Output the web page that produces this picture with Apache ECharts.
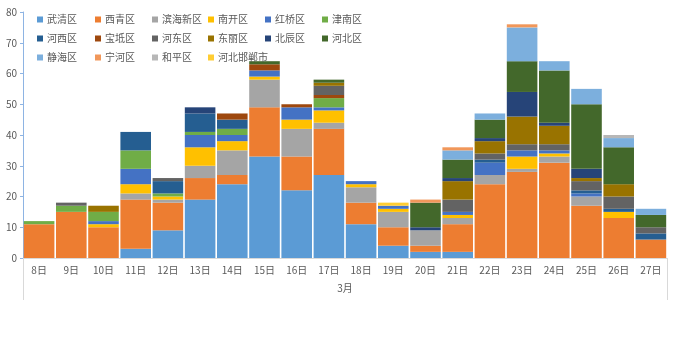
<!DOCTYPE html>
<html>
<head>
<meta charset="utf-8">
<script src="https://cdn.jsdelivr.net/npm/echarts@6/dist/echarts.min.js"></script>
<style>html,body{margin:0;padding:0;background:#fff}#c{width:677px;height:339px}</style>
</head>
<body>
<div id="c"></div>
<script>
const categories = ['8日','9日','10日','11日','12日','13日','14日','15日','16日','17日','18日','19日','20日','21日','22日','23日','24日','25日','26日','27日'];
const monthLabel = ['3月'];
const yTicks = {min: 0, max: 80, interval: 10};

const wuqing   = [0,0,0,3,9,19,24,33,22,27,11,4,2,2,0,0,0,0,0,0];
const xiqing   = [11,15,10,16,9,7,3,16,11,15,7,6,2,9,24,28,31,17,13,6];
const binhai   = [0,0,0,2,1,4,8,9,9,2,5,5,5,2,3,1,2,3,0,0];
const nankai   = [0,0,1,3,1,6,3,1,3,4,1,1,0,1,0,4,1,0,2,0];
const hongqiao = [0,0,1,5,0,4,2,2,4,1,1,1,0,1,4,2,1,1,0,0];
const jinnan   = [1,2,3,6,1,1,2,0,0,3,0,0,0,0,0,0,0,0,0,0];
const hexi     = [0,0,0,6,4,6,3,0,0,0,0,0,0,0,1,0,0,1,1,2];
const baodi    = [0,0,0,0,0,0,2,2,1,1,0,0,0,0,0,0,0,0,0,0];
const hedong   = [0,1,0,0,1,0,0,0,0,3,0,0,0,4,2,2,2,3,4,2];
const dongli   = [0,0,2,0,0,0,0,0,0,1,0,0,0,6,4,9,6,1,4,0];
const beichen  = [0,0,0,0,0,2,0,0,0,0,0,0,1,1,1,8,1,3,0,0];
const hebei    = [0,0,0,0,0,0,0,1,0,1,0,0,8,6,6,10,17,21,12,4];
const jinghai  = [0,0,0,0,0,0,0,0,0,0,0,0,0,3,2,11,3,5,3,2];
const ninghe   = [0,0,0,0,0,0,0,0,0,0,0,0,1,1,0,1,0,0,0,0];
const heping   = [0,0,0,0,0,0,0,0,0,0,0,0,0,0,0,0,0,0,1,0];
const handan   = [0,0,0,0,0,0,0,0,0,0,0,1,0,0,0,0,0,0,0,0];

const seriesNames = ['武清区','西青区','滨海新区','南开区','红桥区','津南区','河西区','宝坻区','河东区','东丽区','北辰区','河北区','静海区','宁河区','和平区','河北邯郸市'];
const seriesData = [wuqing,xiqing,binhai,nankai,hongqiao,jinnan,hexi,baodi,hedong,dongli,beichen,hebei,jinghai,ninghe,heping,handan];
const colors = ['#5B9BD5','#ED7D31','#A5A5A5','#FFC000','#4472C4','#70AD47','#255E91','#9E480E','#636363','#997300','#264478','#43682B','#7CAFDD','#F1975A','#B7B7B7','#FFCD33'];

const FONT = '"Noto Sans CJK SC", "Noto Sans", sans-serif';
const chart = echarts.init(document.getElementById('c'), null, {renderer: 'canvas'});

const legendLefts = [37, 95, 152, 208, 265, 322];
const legends = legendLefts.map((l, col) => ({
  left: l, top: 13, orient: 'vertical', padding: 0,
  itemWidth: 6, itemHeight: 6, itemGap: 6, icon: 'rect',
  textStyle: {fontFamily: FONT, fontSize: 10, color: '#595959', lineHeight: 13, padding: [0,0,0,-1]},
  data: [0,1,2].map(r => seriesNames[r*6 + col]).filter(Boolean),
  selectedMode: false
}));

chart.setOption({
  animation: false,
  color: colors,
  textStyle: {fontFamily: FONT},
  legend: legends,
  grid: {left: 23, right: 10, top: 12, bottom: 81, containLabel: false},
  xAxis: [{
    type: 'category', data: categories, position: 'bottom',
    axisLine: {show: true, lineStyle: {color: '#D9D9D9'}},
    axisTick: {show: false},
    axisLabel: {fontFamily: FONT, fontSize: 10, color: '#595959', margin: 7, interval: 0}
  }, {
    type: 'category', data: monthLabel, position: 'bottom',
    axisLine: {show: false},
    axisTick: {show: true, length: 42, lineStyle: {color: '#D9D9D9'}},
    axisLabel: {fontFamily: FONT, fontSize: 10, color: '#595959', margin: 25}
  }],
  yAxis: {
    type: 'value', min: yTicks.min, max: yTicks.max, interval: yTicks.interval,
    axisLine: {show: true, lineStyle: {color: '#8EB4E3'}},
    axisTick: {show: true, length: 3, lineStyle: {color: '#8EB4E3'}},
    splitLine: {show: false},
    axisLabel: {fontFamily: FONT, fontSize: 10, color: '#595959', margin: 6}
  },
  series: seriesNames.map((n, i) => ({
    name: n, type: 'bar', stack: 'total', xAxisIndex: 0,
    barCategoryGap: '5%',
    data: seriesData[i],
    itemStyle: {color: colors[i]},
    emphasis: {disabled: true}
  }))
});
</script>
</body>
</html>
